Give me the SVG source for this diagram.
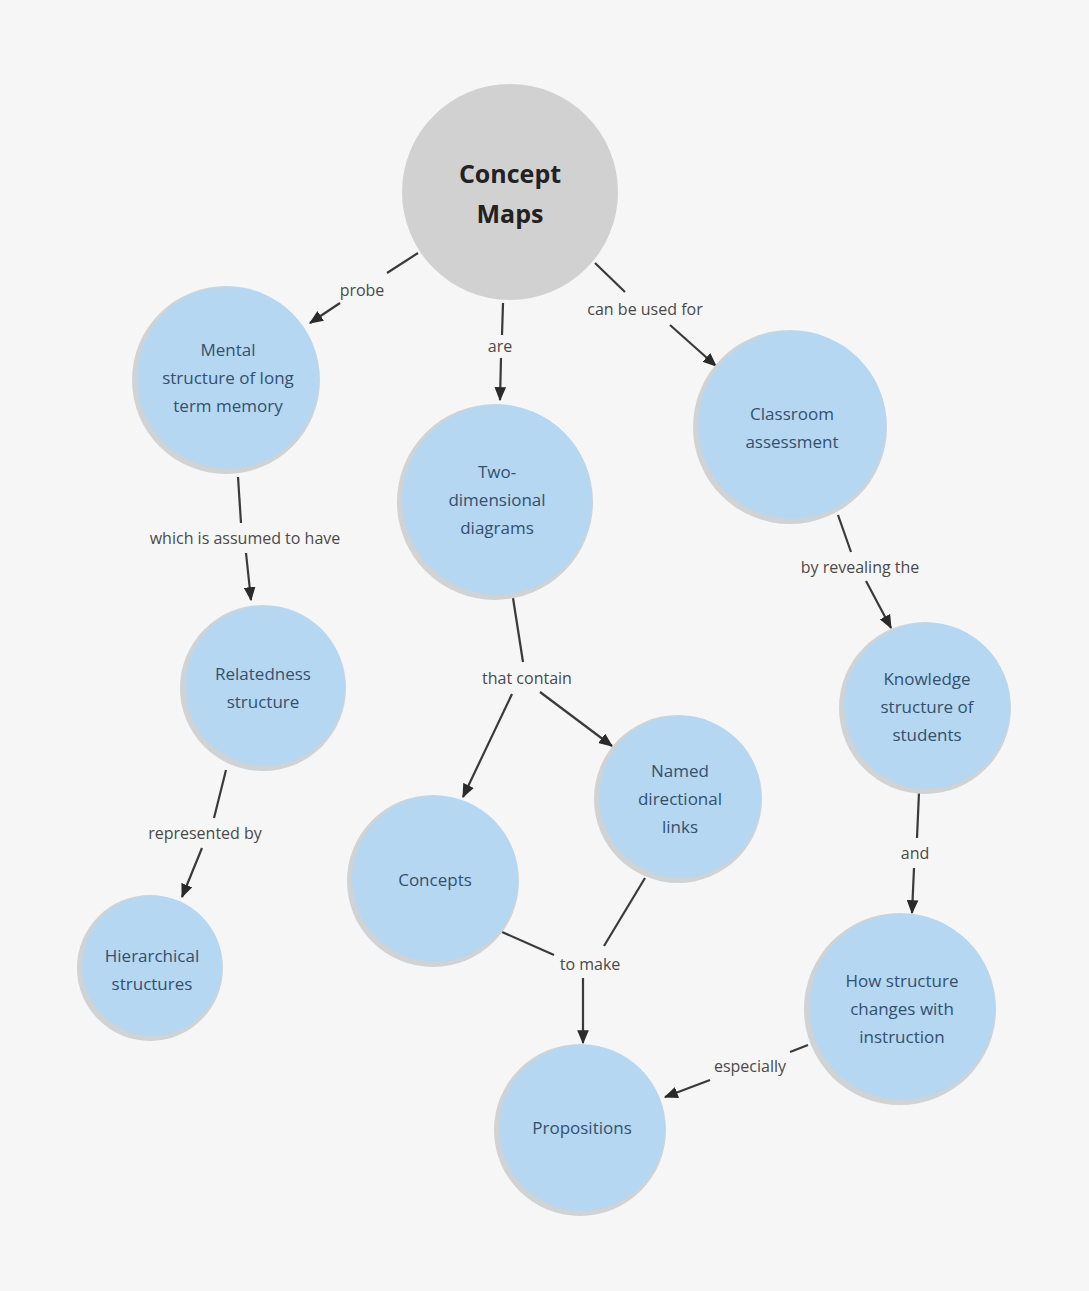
<svg xmlns="http://www.w3.org/2000/svg" width="1089" height="1291" viewBox="0 0 1089 1291">
<style>
.node{fill:#b5d7f2;}
.shadow{fill:#cfd3d6;}
.nt{font-family:"Open Sans","Liberation Sans",sans-serif;font-size:17px;fill:#34506e;text-anchor:middle;}
.lb{font-family:"Open Sans","Liberation Sans",sans-serif;font-size:16px;fill:#4a4a4a;text-anchor:middle;}
.ln{stroke:#3a3a3a;stroke-width:2.2;fill:none;}
.title{font-family:"Open Sans","Liberation Sans",sans-serif;font-size:25px;font-weight:bold;fill:#222;text-anchor:middle;}
</style>
<defs>
<marker id="a" viewBox="0 0 12 10" refX="11" refY="5" markerWidth="14" markerHeight="12" orient="auto" markerUnits="userSpaceOnUse">
<path d="M0,0 L12,5 L0,10 z" fill="#2a2a2a"/>
</marker>
</defs>
<rect width="1089" height="1291" fill="#f6f6f6"/>
<g id="connectors">
<line class="ln" x1="418" y1="253" x2="387" y2="273"/>
<line class="ln" x1="340" y1="303" x2="310" y2="323" marker-end="url(#a)"/>
<text class="lb" x="362" y="296">probe</text>
<line class="ln" x1="503" y1="303" x2="502" y2="335"/>
<line class="ln" x1="501" y1="358" x2="500" y2="400" marker-end="url(#a)"/>
<text class="lb" x="500" y="352">are</text>
<line class="ln" x1="595" y1="263" x2="625" y2="292"/>
<line class="ln" x1="670" y1="325" x2="716" y2="366" marker-end="url(#a)"/>
<text class="lb" x="645" y="315">can be used for</text>
<line class="ln" x1="238" y1="477" x2="241" y2="523"/>
<line class="ln" x1="246" y1="553" x2="251" y2="600" marker-end="url(#a)"/>
<text class="lb" x="245" y="544">which is assumed to have</text>
<line class="ln" x1="838" y1="515" x2="851" y2="552"/>
<line class="ln" x1="866" y1="581" x2="891" y2="628" marker-end="url(#a)"/>
<text class="lb" x="860" y="573">by revealing the</text>
<line class="ln" x1="513" y1="598" x2="523" y2="662"/>
<text class="lb" x="527" y="684">that contain</text>
<line class="ln" x1="512" y1="694" x2="463" y2="797" marker-end="url(#a)"/>
<line class="ln" x1="540" y1="692" x2="612" y2="746" marker-end="url(#a)"/>
<line class="ln" x1="226" y1="770" x2="214" y2="818"/>
<line class="ln" x1="202" y1="848" x2="182" y2="897" marker-end="url(#a)"/>
<text class="lb" x="205" y="839">represented by</text>
<line class="ln" x1="919" y1="792" x2="917" y2="838"/>
<line class="ln" x1="914" y1="868" x2="912" y2="913" marker-end="url(#a)"/>
<text class="lb" x="915" y="859">and</text>
<line class="ln" x1="502" y1="932" x2="554" y2="955"/>
<line class="ln" x1="645" y1="878" x2="604" y2="946"/>
<text class="lb" x="590" y="970">to make</text>
<line class="ln" x1="583" y1="978" x2="583" y2="1043" marker-end="url(#a)"/>
<line class="ln" x1="808" y1="1045" x2="790" y2="1052"/>
<line class="ln" x1="710" y1="1080" x2="665" y2="1097" marker-end="url(#a)"/>
<text class="lb" x="750" y="1072">especially</text>
</g>
<g id="n-concept-maps">
<circle cx="510" cy="192" r="108" fill="#d1d1d1"/>
<text class="title" x="510" y="183">Concept</text>
<text class="title" x="510" y="223">Maps</text>
</g>
<g id="n-mental">
<circle class="shadow" cx="226" cy="380" r="94"/>
<circle class="node" cx="228" cy="378" r="91"/>
<text class="nt" x="228" y="356">Mental</text>
<text class="nt" x="228" y="384">structure of long</text>
<text class="nt" x="228" y="412">term memory</text>
</g>
<g id="n-two-dim">
<circle class="shadow" cx="495" cy="502" r="98"/>
<circle class="node" cx="497" cy="500" r="95"/>
<text class="nt" x="497" y="478">Two-</text>
<text class="nt" x="497" y="506">dimensional</text>
<text class="nt" x="497" y="534">diagrams</text>
</g>
<g id="n-classroom">
<circle class="shadow" cx="790" cy="427" r="97"/>
<circle class="node" cx="792" cy="425" r="94"/>
<text class="nt" x="792" y="420">Classroom</text>
<text class="nt" x="792" y="448">assessment</text>
</g>
<g id="n-relatedness">
<circle class="shadow" cx="263" cy="688" r="83"/>
<circle class="node" cx="265" cy="686" r="80"/>
<text class="nt" x="263" y="680">Relatedness</text>
<text class="nt" x="263" y="708">structure</text>
</g>
<g id="n-knowledge">
<circle class="shadow" cx="925" cy="708" r="86"/>
<circle class="node" cx="927" cy="706" r="83"/>
<text class="nt" x="927" y="685">Knowledge</text>
<text class="nt" x="927" y="713">structure of</text>
<text class="nt" x="927" y="741">students</text>
</g>
<g id="n-named">
<circle class="shadow" cx="678" cy="799" r="84"/>
<circle class="node" cx="680" cy="797" r="81"/>
<text class="nt" x="680" y="777">Named</text>
<text class="nt" x="680" y="805">directional</text>
<text class="nt" x="680" y="833">links</text>
</g>
<g id="n-hierarchical">
<circle class="shadow" cx="150" cy="968" r="73"/>
<circle class="node" cx="152" cy="966" r="70"/>
<text class="nt" x="152" y="962">Hierarchical</text>
<text class="nt" x="152" y="990">structures</text>
</g>
<g id="n-concepts">
<circle class="shadow" cx="433" cy="881" r="86"/>
<circle class="node" cx="435" cy="879" r="83"/>
<text class="nt" x="435" y="886">Concepts</text>
</g>
<g id="n-how">
<circle class="shadow" cx="900" cy="1009" r="96"/>
<circle class="node" cx="902" cy="1007" r="93"/>
<text class="nt" x="902" y="987">How structure</text>
<text class="nt" x="902" y="1015">changes with</text>
<text class="nt" x="902" y="1043">instruction</text>
</g>
<g id="n-propositions">
<circle class="shadow" cx="580" cy="1130" r="86"/>
<circle class="node" cx="582" cy="1128" r="83"/>
<text class="nt" x="582" y="1134">Propositions</text>
</g>
</svg>
